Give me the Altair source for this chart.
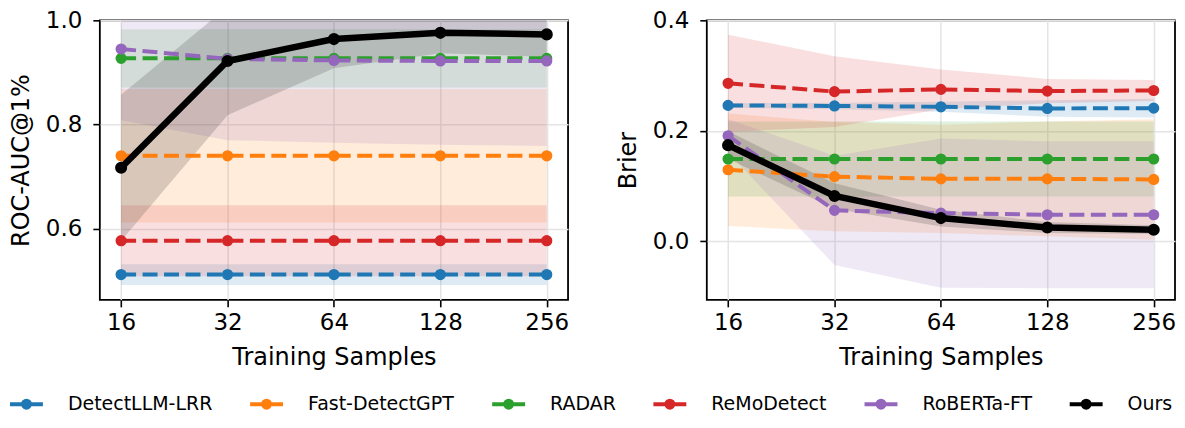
import altair as alt
import pandas as pd

x_samples = [16, 32, 64, 128, 256]
methods = ["DetectLLM-LRR", "Fast-DetectGPT", "RADAR", "ReMoDetect", "RoBERTa-FT", "Ours"]
colors = ["#1f77b4", "#ff7f0e", "#2ca02c", "#d62728", "#9467bd", "#000000"]

# ---- ROC-AUC@1% (left panel): mean and std per method ----
auc_detectllm = [0.512, 0.512, 0.512, 0.512, 0.512]
auc_detectllm_std = [0.020, 0.020, 0.020, 0.020, 0.020]
auc_fastdetect = [0.740, 0.740, 0.740, 0.740, 0.740]
auc_fastdetect_std = [0.128, 0.128, 0.128, 0.128, 0.128]
auc_radar = [0.927, 0.927, 0.927, 0.927, 0.927]
auc_radar_std = [0.056, 0.056, 0.056, 0.056, 0.056]
auc_remodetect = [0.577, 0.577, 0.577, 0.577, 0.577]
auc_remodetect_std = [0.068, 0.068, 0.068, 0.068, 0.068]
auc_roberta = [0.945, 0.926, 0.923, 0.922, 0.922]
auc_roberta_std = [0.137, 0.156, 0.158, 0.161, 0.163]
auc_ours = [0.717, 0.922, 0.964, 0.976, 0.973]
auc_ours_std = [0.140, 0.104, 0.056, 0.039, 0.043]

# ---- Brier (right panel): mean and std per method ----
brier_detectllm = [0.246, 0.245, 0.2435, 0.2405, 0.241]
brier_detectllm_std = [0.004, 0.006, 0.009, 0.015, 0.017]
brier_fastdetect = [0.1295, 0.117, 0.113, 0.113, 0.112]
brier_fastdetect_std = [0.102, 0.099, 0.098, 0.104, 0.109]
brier_radar = [0.149, 0.149, 0.149, 0.149, 0.149]
brier_radar_std = [0.068, 0.068, 0.068, 0.068, 0.068]
brier_remodetect = [0.286, 0.271, 0.275, 0.272, 0.273]
brier_remodetect_std = [0.088, 0.064, 0.036, 0.022, 0.019]
brier_roberta = [0.191, 0.056, 0.051, 0.048, 0.048]
brier_roberta_std = [0.030, 0.099, 0.135, 0.133, 0.133]
brier_ours = [0.174, 0.082, 0.042, 0.025, 0.021]
brier_ours_std = [0.025, 0.023, 0.015, 0.010, 0.008]

auc_series = [
    (auc_detectllm, auc_detectllm_std), (auc_fastdetect, auc_fastdetect_std),
    (auc_radar, auc_radar_std), (auc_remodetect, auc_remodetect_std),
    (auc_roberta, auc_roberta_std), (auc_ours, auc_ours_std),
]
brier_series = [
    (brier_detectllm, brier_detectllm_std), (brier_fastdetect, brier_fastdetect_std),
    (brier_radar, brier_radar_std), (brier_remodetect, brier_remodetect_std),
    (brier_roberta, brier_roberta_std), (brier_ours, brier_ours_std),
]


def make_df(series):
    rows = []
    for m, (mean, std) in zip(methods, series):
        for xv, mv, sv in zip(x_samples, mean, std):
            rows.append({"method": m, "order": methods.index(m), "samples": xv,
                         "mean": mv, "lo": mv - sv, "hi": mv + sv})
    return pd.DataFrame(rows)


# legend scale (fill / stroke of the markers)
color_scale = alt.Scale(domain=methods, range=colors)
# same mapping, listed in reverse, for bands and lines (keeps their hidden legend apart)
band_scale = alt.Scale(domain=methods[::-1], range=colors[::-1])

# line-with-marker legend glyph (wider than the nominal symbol box)
legend_path = ("M-2.75,0L2.75,0M0.583,0A0.583,0.583,0,1,1,-0.583,0"
               "A0.583,0.583,0,1,1,0.583,0Z")
legend = alt.Legend(orient="none", legendX=-83, legendY=375, direction="horizontal",
                    columns=6, title=None, symbolType=legend_path, symbolSize=144,
                    symbolStrokeWidth=4, labelFontSize=19, labelOffset=32,
                    columnPadding=29.5, labelFont="DejaVu Sans", labelColor="black",
                    padding=0)


def panel(df, ytitle, ydomain, yticks):
    base = alt.Chart(df)
    xenc = alt.X("samples:Q",
                 scale=alt.Scale(type="log", base=2, domain=[13.93, 294.07], nice=False),
                 axis=alt.Axis(values=x_samples, format="d", title="Training Samples"))
    yscale = alt.Scale(domain=ydomain, nice=False, zero=False)
    yaxis = alt.Axis(values=yticks, format=".1f", title=ytitle)
    band = base.mark_area(opacity=0.15, clip=True).encode(
        x=xenc,
        y=alt.Y("lo:Q", scale=yscale, axis=yaxis),
        y2="hi:Q",
        color=alt.Color("method:N", scale=band_scale, legend=None),
        order="order:Q",
    )
    others = base.transform_filter(alt.datum.method != "Ours")
    ours = base.transform_filter(alt.datum.method == "Ours")
    lines = others.mark_line(strokeDash=[15, 6.5], strokeWidth=4, clip=True).encode(
        x=xenc, y=alt.Y("mean:Q", scale=yscale, axis=yaxis),
        color=alt.Color("method:N", scale=band_scale, legend=None),
        order="samples:Q",
    )
    pts = others.mark_point(filled=True, size=52, strokeWidth=4, opacity=1, clip=True).encode(
        x=xenc, y=alt.Y("mean:Q", scale=yscale, axis=yaxis),
        fill=alt.Fill("method:N", scale=color_scale, legend=legend),
        stroke=alt.Stroke("method:N", scale=color_scale, legend=legend),
    )
    oline = ours.mark_line(strokeWidth=6.5, clip=True).encode(
        x=xenc, y=alt.Y("mean:Q", scale=yscale, axis=yaxis),
        color=alt.Color("method:N", scale=band_scale, legend=None),
        order="samples:Q",
    )
    opts = ours.mark_point(filled=True, size=66, strokeWidth=4, opacity=1, clip=True).encode(
        x=xenc, y=alt.Y("mean:Q", scale=yscale, axis=yaxis),
        fill=alt.Fill("method:N", scale=color_scale, legend=legend),
        stroke=alt.Stroke("method:N", scale=color_scale, legend=legend),
    )
    return alt.layer(band, lines, pts, oline, opts).properties(width=469, height=280)


left = panel(make_df(auc_series), "ROC-AUC@1%", [0.4635, 1.0], [0.6, 0.8, 1.0])
right = panel(make_df(brier_series), "Brier", [-0.106, 0.4], [0.0, 0.2, 0.4])

chart = alt.hconcat(left, right, spacing=139, bounds="flush").properties(
    padding={"left": 0, "top": 0, "right": 0, "bottom": 0}
).configure(font="DejaVu Sans").configure_view(
    stroke="black", strokeWidth=1.8
).configure_axis(
    labelFont="DejaVu Sans", titleFont="DejaVu Sans",
    labelFontSize=23, titleFontSize=24, labelColor="black", titleColor="black",
    titleFontWeight="normal", domain=False, tickColor="black", tickSize=7,
    tickWidth=1.6, grid=True, gridColor="#e4e4e4", gridWidth=1.5,
).configure_axisX(labelPadding=5, titlePadding=11).configure_axisY(
    labelPadding=11, titlePadding=12
)

chart.save("out.html", embed_options={"renderer": "svg", "actions": False})
